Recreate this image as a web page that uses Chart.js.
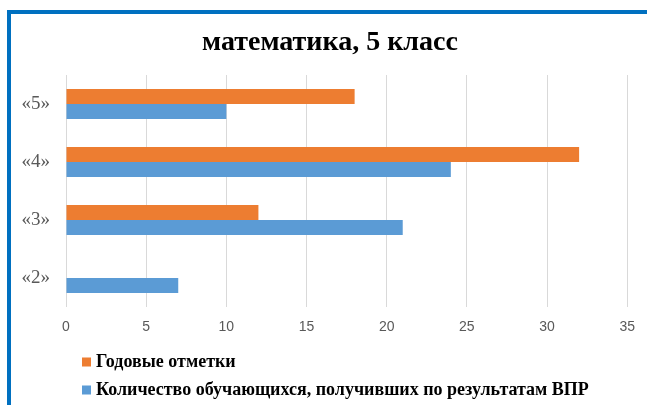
<!DOCTYPE html>
<html>
<head>
<meta charset="utf-8">
<script src="https://cdn.jsdelivr.net/npm/chart.js@4/dist/chart.umd.min.js"></script>
<style>
  html, body { margin: 0; padding: 0; background: #ffffff; }
  #wrap { position: relative; width: 647px; height: 405px; overflow: hidden; }
  #frame { position: absolute; left: 7px; top: 10px; width: 700px; height: 500px;
           border-left: 4px solid #0070C0; border-top: 4px solid #0070C0; box-sizing: border-box; }
  canvas { position: absolute; left: 0; top: 0; }
</style>
</head>
<body>
<div id="wrap">
  <div id="frame"></div>
  <canvas id="c" width="647" height="405"></canvas>
</div>
<script>
const titleText = "математика, 5 класс";
const categories = ["«5»", "«4»", "«3»", "«2»"];
const seriesNames = ["Годовые отметки", "Количество обучающихся, получивших по результатам ВПР"];
const annualMarks = [18, 32, 12, 0];
const vprResults = [10, 24, 21, 7];
const xTicks = [0, 5, 10, 15, 20, 25, 30, 35];
const colors = ["#ED7D31", "#5B9BD5"];

const decorPlugin = {
  id: 'decor',
  afterDraw(chart) {
    const ctx = chart.ctx;
    ctx.save();
    // title
    ctx.font = "bold 28px 'Liberation Serif', 'Times New Roman', serif";
    ctx.fillStyle = '#000000';
    ctx.textAlign = 'center';
    ctx.textBaseline = 'middle';
    ctx.fillText(titleText, 330, 43);
    // legend (one entry per line)
    const x0 = chart.chartArea.left + 16;
    const ys = [362, 390];
    ctx.font = "bold 18px 'Liberation Serif', 'Times New Roman', serif";
    ctx.textAlign = 'left';
    chart.data.datasets.forEach((ds, i) => {
      ctx.fillStyle = ds.backgroundColor;
      ctx.fillRect(x0, ys[i] - 4.5, 9, 9);
      ctx.fillStyle = '#000000';
      ctx.fillText(ds.label, x0 + 14, ys[i]);
    });
    ctx.restore();
  }
};

new Chart(document.getElementById('c'), {
  type: 'bar',
  data: {
    labels: categories,
    datasets: [
      { label: seriesNames[0], data: annualMarks, backgroundColor: colors[0], borderWidth: 0 },
      { label: seriesNames[1], data: vprResults, backgroundColor: colors[1], borderWidth: 0 }
    ]
  },
  options: {
    indexAxis: 'y',
    responsive: false,
    animation: false,
    devicePixelRatio: 1,
    categoryPercentage: 0.52,
    barPercentage: 1.0,
    layout: { padding: { left: 0, right: 19, top: 75, bottom: 70 } },
    plugins: {
      legend: { display: false },
      tooltip: { enabled: false },
      title: { display: false }
    },
    scales: {
      x: {
        min: 0, max: 35,
        afterBuildTicks(scale) { scale.ticks = xTicks.map(v => ({ value: v })); },
        afterFit(scale) { scale.height = 28; },
        grid: { color: '#d9d9d9', lineWidth: 1, drawTicks: false },
        border: { display: false },
        ticks: {
          padding: 12,
          color: '#595959',
          font: { family: "'Liberation Sans', Arial, sans-serif", size: 14 }
        }
      },
      y: {
        afterFit(scale) { scale.width = 66; },
        grid: { display: false, drawTicks: false },
        border: { display: false },
        ticks: {
          padding: 16,
          color: '#595959',
          font: { family: "'Liberation Serif', 'Times New Roman', serif", size: 19 }
        }
      }
    }
  },
  plugins: [decorPlugin]
});
</script>
</body>
</html>
